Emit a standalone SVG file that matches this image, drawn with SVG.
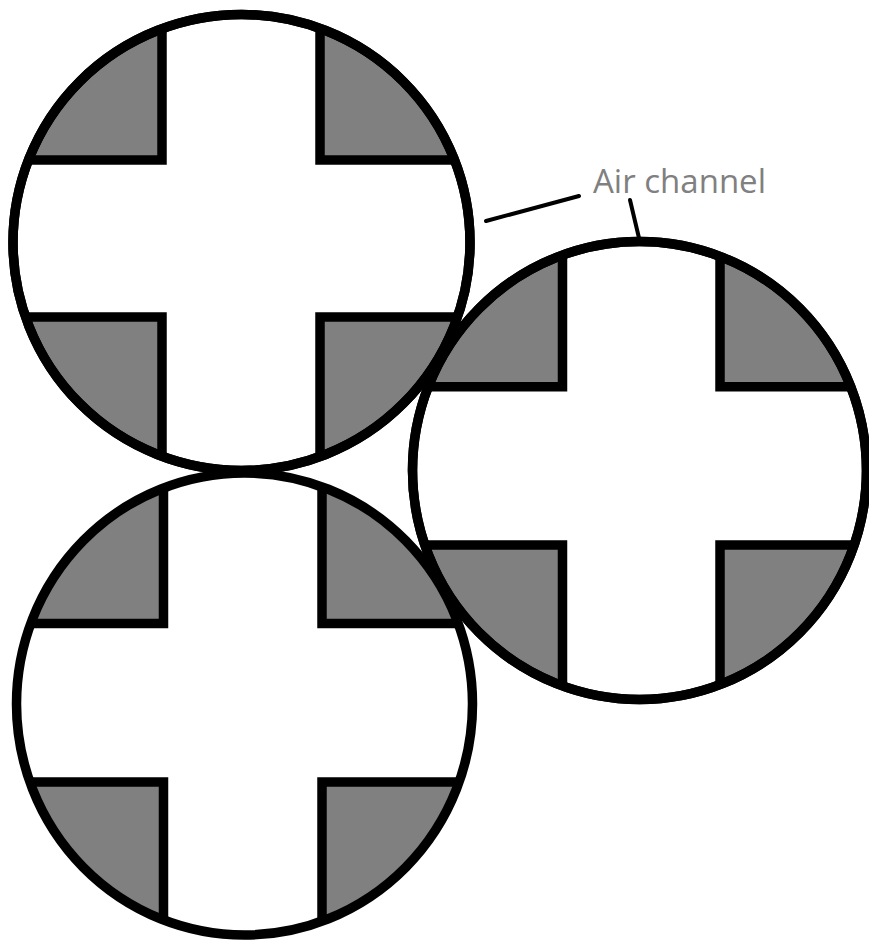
<svg xmlns="http://www.w3.org/2000/svg" xmlns:xlink="http://www.w3.org/1999/xlink" width="869" height="941" viewBox="0 0 869 941">
  <style>
    .body { fill: #808080; stroke: none; }
    .cross { fill: #ffffff; stroke: #000000; stroke-width: 9.5; stroke-linejoin: miter; }
    .rim { fill: none; stroke: #000000; stroke-width: 9.5; }
    .leader { stroke: #000000; stroke-width: 4; fill: none; stroke-linecap: round; }
    .label { font-family: "Open Sans", "Noto Sans", "Liberation Sans", sans-serif; font-size: 33px; fill: #808080; }
  </style>
  <defs>
    <clipPath id="clip1"><ellipse cx="241.5" cy="242.5" rx="228.5" ry="228"/></clipPath>
    <clipPath id="clip2"><ellipse cx="639.5" cy="470.5" rx="227" ry="229"/></clipPath>
    <clipPath id="clip3"><ellipse cx="244.5" cy="704" rx="228" ry="231"/></clipPath>
  </defs>
  <rect x="0" y="0" width="869" height="941" fill="#ffffff"/>

  <g id="disc-top-left">
    <ellipse class="body" cx="241.5" cy="242.5" rx="228.5" ry="228"/>
    <path class="cross" clip-path="url(#clip1)" d="M162,-60 V160 H-60 V317 H162 V540 H320 V317 H540 V160 H320 V-60 Z"/>
    <ellipse id="rim1" class="rim" cx="241.5" cy="242.5" rx="228.5" ry="228"/>
  </g>

  <g id="disc-right">
    <ellipse class="body" cx="639.5" cy="470.5" rx="227" ry="229"/>
    <path class="cross" clip-path="url(#clip2)" d="M562.5,170 V386.7 H340 V545 H562.5 V770 H720 V545 H940 V386.7 H720 V170 Z"/>
    <ellipse id="rim2" class="rim" cx="639.5" cy="470.5" rx="227" ry="229"/>
  </g>

  <g id="disc-bottom-left">
    <ellipse class="body" cx="244.5" cy="704" rx="228" ry="231"/>
    <path class="cross" clip-path="url(#clip3)" d="M163.5,400 V623.5 H-60 V782 H163.5 V1000 H322 V782 H540 V623.5 H322 V400 Z"/>
    <ellipse id="rim3" class="rim" cx="244.5" cy="704" rx="228" ry="231"/>
  </g>

  <g id="rims-overlay">
    <use xlink:href="#rim1" href="#rim1"/>
    <use xlink:href="#rim2" href="#rim2"/>
  </g>

  <g id="connectors">
    <line class="leader" x1="486" y1="221" x2="579" y2="196"/>
    <line class="leader" x1="630" y1="200" x2="639" y2="238"/>
  </g>

  <g id="label-air-channel">
    <text class="label" x="593" y="193">Air channel</text>
  </g>
</svg>
